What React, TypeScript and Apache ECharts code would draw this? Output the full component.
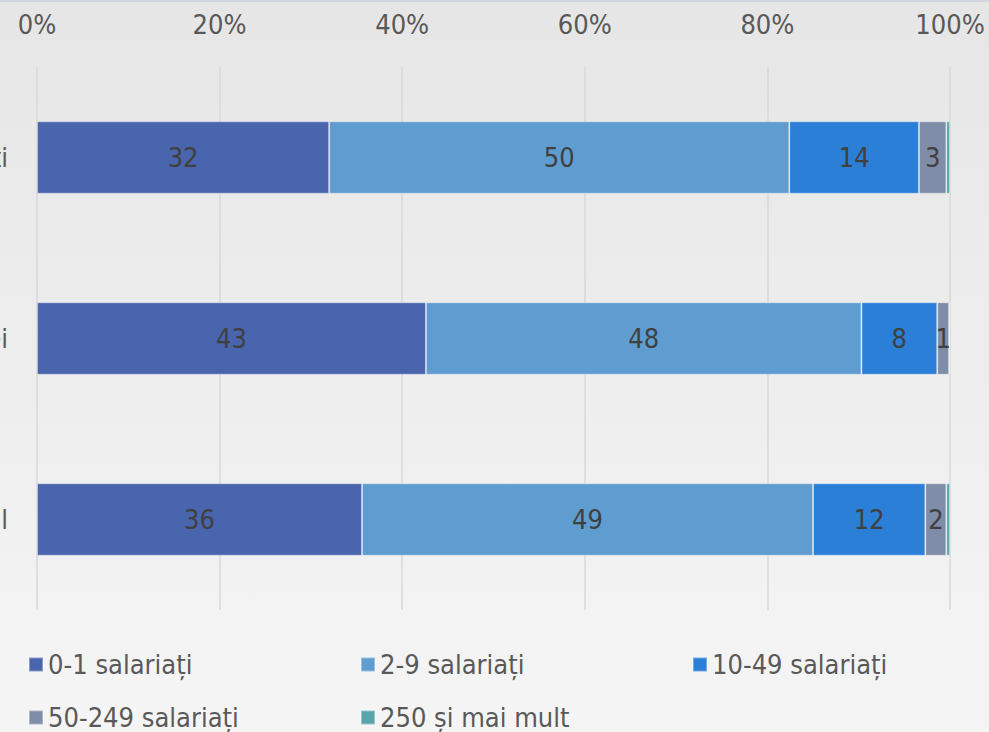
import React, { useEffect, useRef } from "react";
import * as echarts from "echarts";

const categories = ["Bărbați", "Femei", "Total"];
const seriesNames = ["0-1 salariați", "2-9 salariați", "10-49 salariați", "50-249 salariați", "250 și mai mult"];
const s01 = [32.0, 42.6, 35.6];
const s29 = [50.4, 47.7, 49.4];
const s1049 = [14.2, 8.3, 12.3];
const s50249 = [3.0, 1.3, 2.3];
const s250 = [0.4, 0.1, 0.4];
const seriesValues = [s01, s29, s1049, s50249, s250];
const colors = ["#4865ad", "#5f9cd0", "#2b7fd6", "#7f8da8", "#5aa4ac"];
const xTicks = [0, 20, 40, 60, 80, 100];

const FONT = "'Liberation Sans Narrow', 'DejaVu Sans Condensed', 'Noto Sans', sans-serif";

export default function App() {
  const ref = useRef<HTMLDivElement>(null);
  useEffect(() => {
    if (!ref.current) return;
    const chart = echarts.init(ref.current, undefined, { renderer: "svg" });
    chart.setOption({
      animation: false,
      backgroundColor: "transparent",
      textStyle: { fontFamily: FONT },
      grid: { left: 37, right: 39, top: 65, bottom: 122, containLabel: false, outerBoundsMode: "none" },
      xAxis: {
        type: "value",
        position: "top",
        min: xTicks[0],
        max: xTicks[xTicks.length - 1],
        interval: 20,
        axisLine: { show: false },
        axisTick: { show: false },
        axisLabel: {
          formatter: "{value}%",
          color: "#595959",
          fontSize: 27,
          fontFamily: FONT,
          margin: 29,
        },
        splitLine: { show: true, lineStyle: { color: "#d9d9d9", width: 1.5 } },
      },
      yAxis: {
        type: "category",
        inverse: true,
        data: categories,
        axisLine: { show: false },
        axisTick: { show: false },
        axisLabel: { color: "#595959", fontSize: 27, fontFamily: FONT, margin: 29 },
      },
      legend: {
        left: 23,
        top: 631,
        width: 1000,
        padding: 5,
        itemGap: 0,
        itemWidth: 14,
        itemHeight: 14,
        icon: "rect",
        textStyle: {
          color: "#595959",
          fontSize: 27,
          fontFamily: FONT,
          width: 312,
          lineHeight: 53,
        },
        data: seriesNames,
      },
      series: seriesNames.map((name, i) => ({
        name,
        type: "bar",
        stack: "total",
        barWidth: "40%",
        data: seriesValues[i],
        itemStyle: { color: colors[i], borderColor: "rgba(255,255,255,0.35)", borderWidth: 1 },
        label: {
          show: true,
          position: "inside",
          color: "#404040",
          fontSize: 27,
          fontFamily: FONT,
          formatter: (p: any) => (p.value < 0.5 ? "" : String(Math.round(p.value))),
        },
      })),
    });
    return () => chart.dispose();
  }, []);
  return (
    <div
      style={{
        position: "fixed",
        left: 0,
        top: 0,
        width: 989,
        height: 732,
        background: "linear-gradient(to bottom, #e6e6e6 0%, #ececec 40%, #f5f5f5 100%)",
        borderTop: "2px solid #d3d7db",
        boxSizing: "border-box",
      }}
    >
      <div ref={ref} style={{ width: 989, height: 730 }} />
    </div>
  );
}
